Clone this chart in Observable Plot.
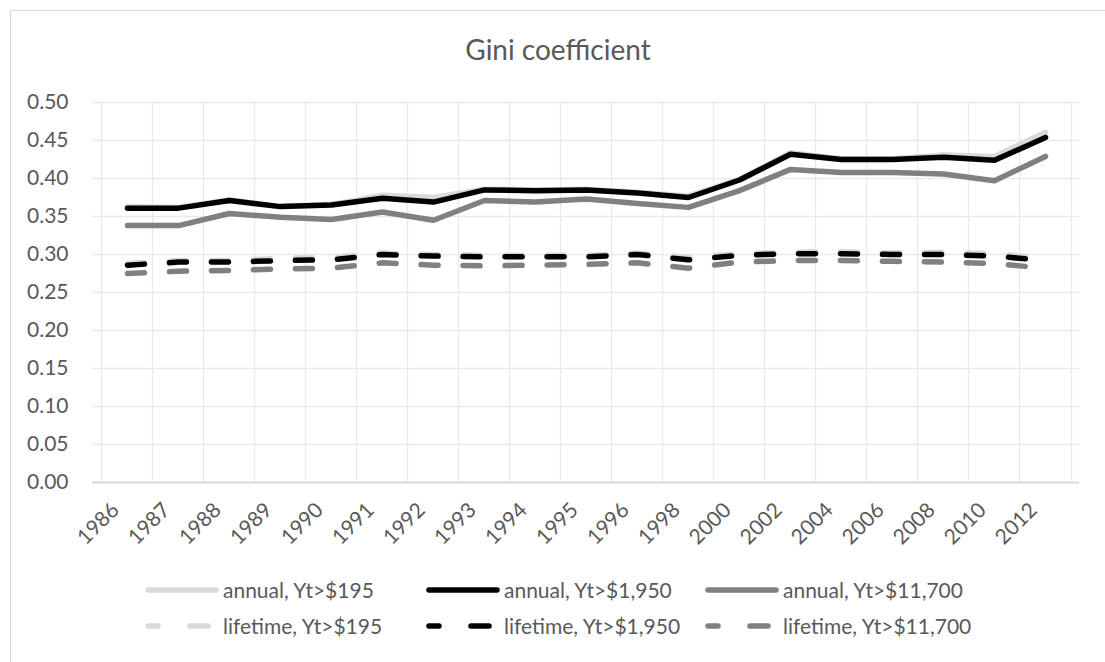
<!DOCTYPE html>
<html>
<head>
<meta charset="utf-8">
<script src="https://cdn.jsdelivr.net/npm/d3@7"></script>
<script src="https://cdn.jsdelivr.net/npm/@observablehq/plot@0.6"></script>
<style>
  html, body { margin: 0; padding: 0; background: #fff; }
  #wrap { position: relative; width: 1105px; height: 662px; overflow: hidden; font-family: Lato, "Open Sans", sans-serif; color: #595959; }
  #border { position: absolute; left: 10px; top: 10px; width: 1110px; height: 700px; border: 1px solid #d9d9d9; box-sizing: border-box; }
  #chart { position: absolute; left: 0; top: 0; }
  #title { position: absolute; left: 10px; width: 1096px; top: 32px; text-align: center; font-size: 28px; line-height: 34px; font-weight: 400; }
  .leg { position: absolute; font-size: 21px; line-height: 26px; white-space: nowrap; display: flex; align-items: center; }
  .leg svg { display: block; margin-right: 4px; }
</style>
</head>
<body>
<div id="wrap">
  <div id="border"></div>
  <div id="chart"></div>
  <div id="title">Gini coefficient</div>
  <div id="legend"></div>
</div>
<script>
const years = ["1986","1987","1988","1989","1990","1991","1992","1993","1994","1995","1996","1998","2000","2002","2004","2006","2008","2010","2012"];
const yTicks = [0, 0.05, 0.10, 0.15, 0.20, 0.25, 0.30, 0.35, 0.40, 0.45, 0.50];

const annual195   = [0.363, 0.362, 0.372, 0.363, 0.366, 0.378, 0.375, 0.386, 0.385, 0.386, 0.382, 0.377, 0.399, 0.434, 0.426, 0.426, 0.431, 0.429, 0.461];
const annual1950  = [0.361, 0.361, 0.371, 0.363, 0.365, 0.374, 0.369, 0.385, 0.384, 0.385, 0.381, 0.375, 0.398, 0.432, 0.425, 0.425, 0.428, 0.424, 0.454];
const annual11700 = [0.338, 0.338, 0.354, 0.349, 0.346, 0.356, 0.345, 0.371, 0.369, 0.373, 0.367, 0.362, 0.384, 0.412, 0.408, 0.408, 0.406, 0.397, 0.429];
const lifetime195   = [0.288, 0.292, 0.292, 0.295, 0.296, 0.302, 0.300, 0.299, 0.299, 0.299, 0.302, 0.296, 0.301, 0.303, 0.304, 0.302, 0.303, 0.301, 0.295];
const lifetime1950  = [0.286, 0.290, 0.290, 0.292, 0.293, 0.300, 0.298, 0.297, 0.297, 0.297, 0.300, 0.293, 0.299, 0.301, 0.301, 0.300, 0.300, 0.298, 0.292];
const lifetime11700 = [0.275, 0.278, 0.279, 0.281, 0.282, 0.289, 0.286, 0.285, 0.286, 0.287, 0.289, 0.282, 0.290, 0.292, 0.292, 0.291, 0.290, 0.288, 0.282];

const seriesNames  = ["annual, Yt>$195", "annual, Yt>$1,950", "annual, Yt>$11,700", "lifetime, Yt>$195", "lifetime, Yt>$1,950", "lifetime, Yt>$11,700"];
const seriesValues = [annual195, annual1950, annual11700, lifetime195, lifetime1950, lifetime11700];
const seriesColors = ["#d9d9d9", "#000000", "#808080", "#d9d9d9", "#000000", "#808080"];
const seriesDashed = [false, false, false, true, true, true];

(function () {
  const W = 1105, pL = 92, pR = 1079, pT = 102, pB = 482, H = 560;
  const step = (pR - pL) / years.length;
  const LW = 5.5, DASH = "17,25";

  const lineMarks = seriesNames.map((name, k) =>
    Plot.line(years.map((yr, i) => ({year: yr, value: seriesValues[k][i]})), {
      x: "year", y: "value",
      stroke: seriesColors[k], strokeWidth: LW,
      strokeLinecap: "round", strokeLinejoin: "round",
      strokeDasharray: seriesDashed[k] ? DASH : null
    })
  );

  const chart = Plot.plot({
    width: W, height: H,
    marginLeft: pL, marginRight: W - pR, marginTop: pT, marginBottom: H - pB,
    style: {fontFamily: "Lato, 'Open Sans', sans-serif", fontSize: "21px", color: "#595959", background: "transparent", overflow: "visible"},
    x: {type: "point", domain: years, padding: 0.5, label: null},
    y: {domain: [0, 0.5], label: null},
    marks: [
      Plot.gridY(yTicks.filter(v => v > 0), {stroke: "#e9e9e9", strokeOpacity: 1, strokeWidth: 1.3}),
      Plot.ruleX(years, {dx: -step / 2, stroke: "#e9e9e9", strokeWidth: 1.3}),
      Plot.ruleX([years[years.length - 1]], {dx: step / 2, stroke: "#e9e9e9", strokeWidth: 1.3}),
      Plot.ruleY([0], {stroke: "#d9d9d9", strokeWidth: 2}),
      Plot.axisY({ticks: yTicks, tickFormat: d3.format(".2f"), tickSize: 0, tickPadding: 24, fontSize: 21, label: null}),
      Plot.axisX({tickRotate: -45, tickSize: 0, tickPadding: 24, fontSize: 21, dx: -12, label: null}),
      ...lineMarks
    ]
  });
  document.getElementById("chart").appendChild(chart);

  // legend
  const legPos = [[145, 577], [426, 577], [705, 577], [145, 613], [426, 613], [705, 613]];
  const leg = document.getElementById("legend");
  const ns = "http://www.w3.org/2000/svg";
  seriesNames.forEach((name, k) => {
    const div = document.createElement("div");
    div.className = "leg";
    div.style.left = legPos[k][0] + "px";
    div.style.top = legPos[k][1] + "px";
    const svg = document.createElementNS(ns, "svg");
    svg.setAttribute("width", 74); svg.setAttribute("height", 26);
    const ln = document.createElementNS(ns, "line");
    ln.setAttribute("x1", 3); ln.setAttribute("x2", seriesDashed[k] ? 63 : 71);
    ln.setAttribute("y1", 13); ln.setAttribute("y2", 13);
    ln.setAttribute("stroke", seriesColors[k]);
    ln.setAttribute("stroke-width", LW);
    ln.setAttribute("stroke-linecap", "round");
    if (seriesDashed[k]) ln.setAttribute("stroke-dasharray", "10,32,18");
    svg.appendChild(ln);
    div.appendChild(svg);
    const sp = document.createElement("span");
    sp.textContent = name;
    div.appendChild(sp);
    leg.appendChild(div);
  });
})();
</script>
</body>
</html>
